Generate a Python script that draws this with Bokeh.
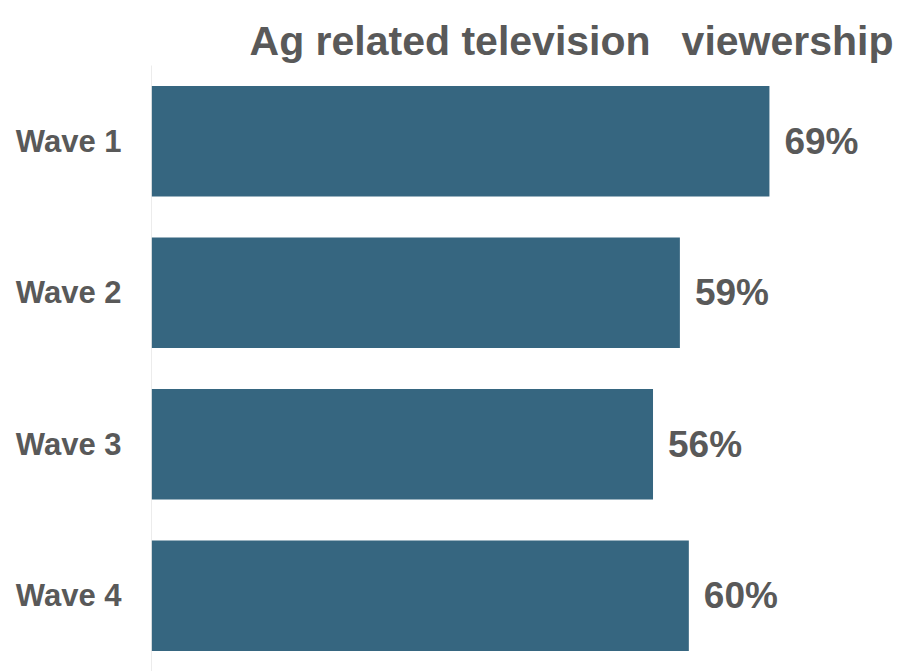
from bokeh.plotting import figure
from bokeh.models import ColumnDataSource, Range1d, FixedTicker
from bokeh.core.properties import value
from bokeh.embed import file_html
from bokeh.resources import INLINE

title_text = "Ag related television\u00a0\u00a0\u2009viewership"
categories = ["Wave 1", "Wave 2", "Wave 3", "Wave 4"]
values = [69, 59, 56, 60]
value_labels = ["69%", "59%", "56%", "60%"]

BAR = "#366680"
GRAY = "#595959"
AXIS = "#d9d9d9"

n = len(categories)
ypos = [n - i - 0.5 for i in range(n)]          # Wave 1 on top
src = ColumnDataSource(dict(y=ypos, val=values, lab=value_labels))

X_END = 83.3
Y_END = n + 65 / 151.5   # room above the bars for the title

p = figure(width=897, height=671, output_backend="svg", toolbar_location=None,
           y_range=Range1d(0, Y_END), x_range=Range1d(0, X_END),
           min_border_left=151, min_border_right=0, min_border_bottom=0,
           min_border_top=0)

p.hbar(y="y", right="val", left=0, height=0.73, source=src, color=BAR, line_color=None)
p.text(x="val", y="y", text="lab", source=src, x_offset=15, text_baseline="middle",
       text_font=value("Liberation Sans"), text_font_style="bold", text_font_size="37px",
       text_color=GRAY)

# vertical category axis line spanning only the bar area
p.segment(x0=[0], y0=[0], x1=[0], y1=[n], line_color=AXIS, line_width=1)

# title
p.text(x=[X_END], y=[Y_END], text=[title_text], x_offset=-4, y_offset=40,
       text_align="right", text_baseline="alphabetic",
       text_font=value("Liberation Sans"), text_font_style="bold",
       text_font_size="41px", text_color=GRAY)

p.xaxis.visible = False
p.xgrid.visible = False
p.ygrid.visible = False
p.outline_line_color = None

ax = p.yaxis[0]
ax.ticker = FixedTicker(ticks=ypos)
ax.major_label_overrides = {y: c for y, c in zip(ypos, categories)}
ax.axis_line_color = None
ax.major_tick_line_color = None
ax.minor_tick_line_color = None
ax.major_tick_out = 0
ax.major_label_standoff = 30
ax.major_label_text_font = "Liberation Sans"
ax.major_label_text_font_style = "bold"
ax.major_label_text_font_size = "31px"
ax.major_label_text_color = GRAY

open("out.html", "w").write(file_html(p, INLINE))
